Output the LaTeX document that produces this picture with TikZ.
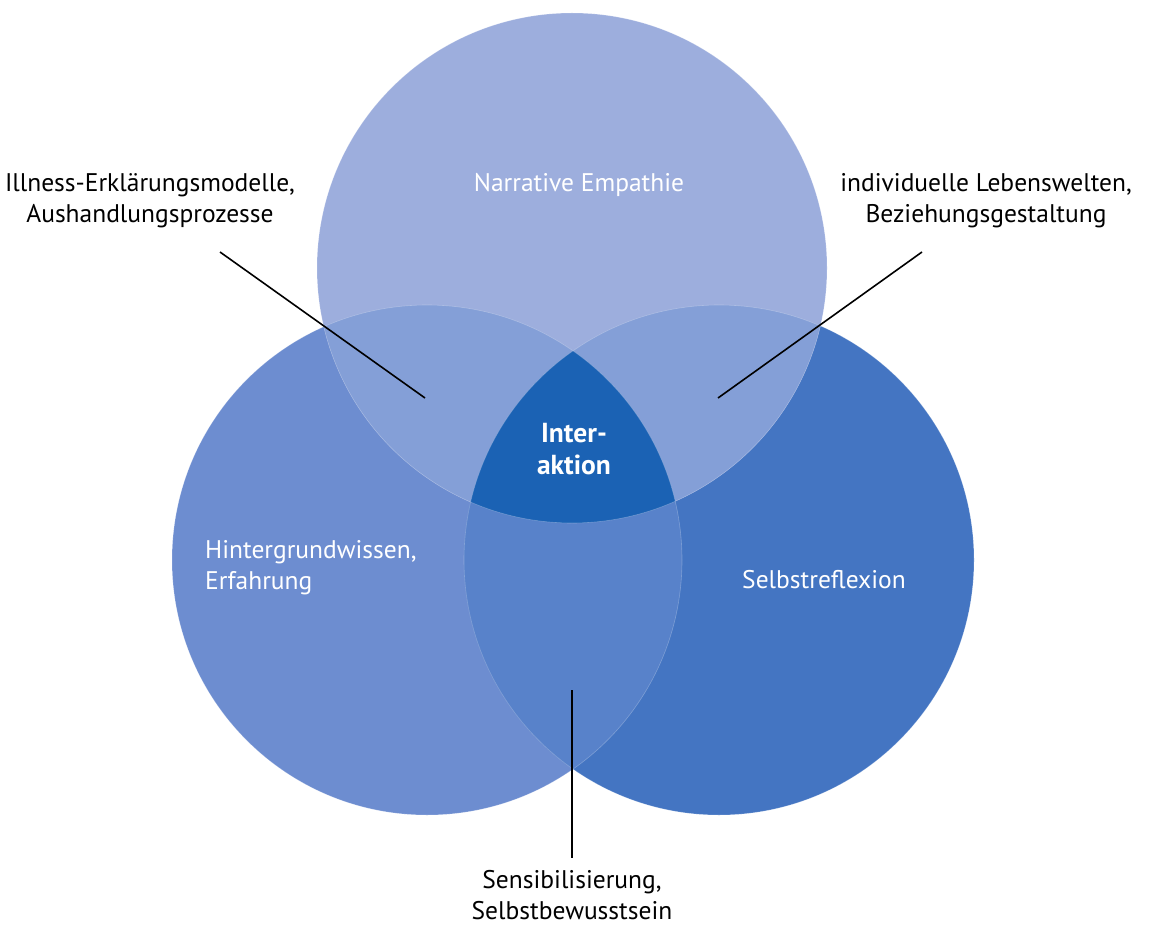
\documentclass[tikz,border=0pt]{standalone}
\usepackage{fontspec}
\setmainfont{PT Sans}
\definecolor{ctop}{HTML}{9DAEDD}
\definecolor{cleft}{HTML}{6D8DD0}
\definecolor{cright}{HTML}{4475C2}
\definecolor{ctl}{HTML}{849FD7}
\definecolor{clr}{HTML}{5882CA}
\definecolor{call}{HTML}{1B62B4}
\begin{document}
\begin{tikzpicture}[x=1pt,y=-1pt,
  lbl/.style={font=\fontsize{25.5}{31}\selectfont, align=center, inner sep=0pt},
  wlbl/.style={lbl, text=white},
  leader/.style={draw=black, line width=1.6pt}]
\useasboundingbox (0,0) rectangle (1159,925);
\def\rr{255}
\coordinate (T) at (572,268);
\coordinate (L) at (427,560);
\coordinate (R) at (719,560);
% base circles
\fill[cleft] (L) circle (\rr);
\fill[cright] (R) circle (\rr);
\fill[ctop] (T) circle (\rr);
% pairwise overlaps
\begin{scope}\clip (T) circle (\rr); \fill[ctl] (L) circle (\rr); \fill[ctl] (R) circle (\rr);\end{scope}
\begin{scope}\clip (L) circle (\rr); \fill[clr] (R) circle (\rr);\end{scope}
\begin{scope}\clip (T) circle (\rr); \clip (L) circle (\rr); \fill[call] (R) circle (\rr);\end{scope}
% faint outlines
\draw[white, opacity=0.25, line width=0.6pt] (T) circle (\rr) (L) circle (\rr) (R) circle (\rr);
% labels
\node[wlbl] (ne) at (579,185) {Narrative Empathie};
\node[wlbl, align=left, anchor=west] (hw) at (205,568) {Hintergrundwissen,\\Erfahrung};
\node[wlbl] (sr) at (824,580) {Selbstreflexion};
\node[wlbl, font=\fontsize{27.5}{32}\selectfont\bfseries] (ia) at (574,449) {Inter-\\aktion};
\node[lbl] (ie) at (150,201) {Illness-Erklärungsmodelle,\\Aushandlungsprozesse};
\node[lbl] (lw) at (986,201) {individuelle Lebenswelten,\\Beziehungsgestaltung};
\node[lbl] (sb) at (572,895) {Sensibilisierung,\\Selbstbewusstsein};
% leader lines
\coordinate (ieA) at (220,252); \coordinate (ieB) at (425,398);
\coordinate (lwA) at (922,252); \coordinate (lwB) at (718,398);
\coordinate (sbA) at (572,690); \coordinate (sbB) at (572,858);
\draw[leader] (ieA) -- (ieB);
\draw[leader] (lwA) -- (lwB);
\draw[leader] (sbA) -- (sbB);
\end{tikzpicture}
\end{document}
